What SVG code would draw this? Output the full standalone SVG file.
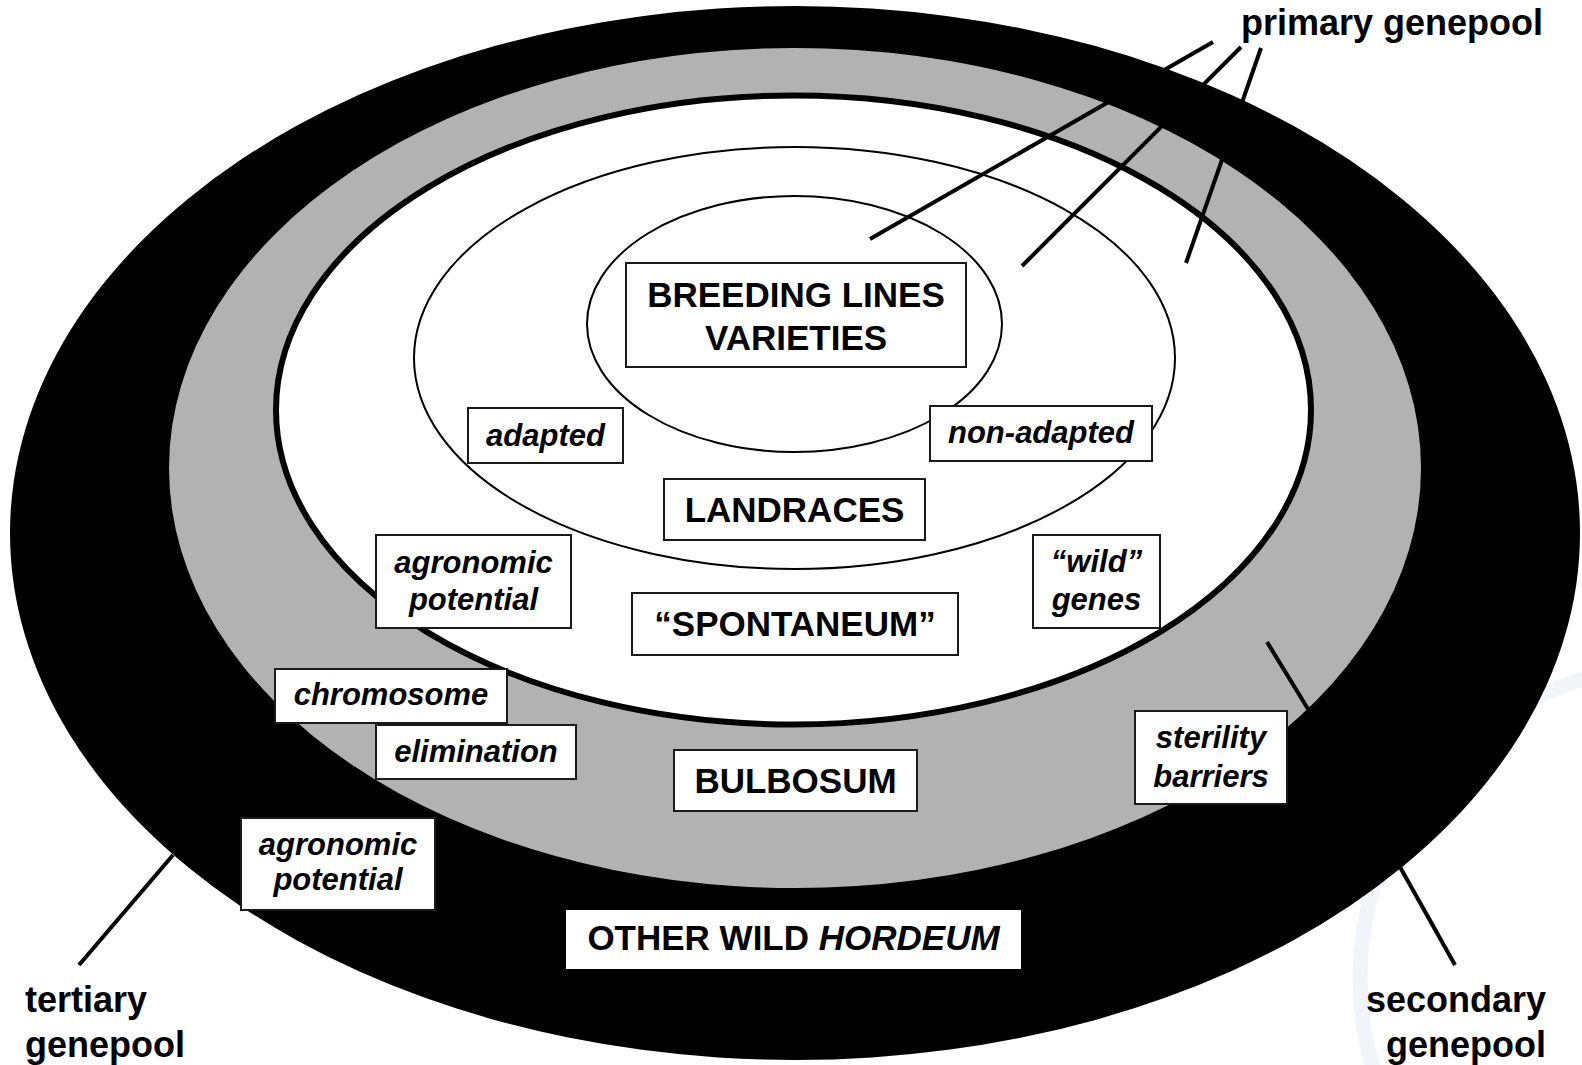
<svg xmlns="http://www.w3.org/2000/svg" width="1582" height="1065" viewBox="0 0 1582 1065">
<style>
.box{fill:#fff;stroke:#1a1a1a;stroke-width:2}
.b{font-family:"Liberation Sans",Arial,sans-serif;font-weight:bold;font-size:35px;fill:#000;text-anchor:middle}
.i{font-family:"Liberation Sans",Arial,sans-serif;font-weight:bold;font-style:italic;font-size:31px;fill:#000;text-anchor:middle}
.lab{font-family:"Liberation Sans",Arial,sans-serif;font-weight:bold;font-size:36px;fill:#000}
.lead{stroke:#000;stroke-width:4;fill:none}
.thin{fill:none;stroke:#000;stroke-width:2}
</style>
<rect width="1582" height="1065" fill="#fff"/>
<g id="watermark">
<circle cx="1672" cy="978" r="312" fill="none" stroke="#f1f4f9" stroke-width="15"/>
</g>
<g id="pools">
<ellipse id="tertiary" cx="795" cy="533" rx="785" ry="527" fill="#000"/>
<ellipse id="secondary" cx="795" cy="468" rx="626" ry="420" fill="#b2b2b2"/>
<ellipse id="primary" cx="793.5" cy="410" rx="517.5" ry="314.5" fill="#fff" stroke="#000" stroke-width="6"/>
<ellipse id="landrace-ring" class="thin" cx="794.5" cy="358" rx="380.5" ry="211"/>
<ellipse id="breeding-ring" class="thin" cx="794.5" cy="324" rx="207.5" ry="128"/>
</g>
<g id="connectors">
<line class="lead" x1="1213" y1="42" x2="870" y2="239"/>
<line class="lead" x1="1241" y1="47" x2="1022" y2="266"/>
<line class="lead" x1="1261" y1="48" x2="1186" y2="263"/>
<line class="lead" x1="1267" y1="642" x2="1308" y2="709"/>
<line class="lead" x1="1400" y1="867" x2="1455" y2="965"/>
<line class="lead" x1="173" y1="855" x2="79" y2="965"/>
</g>
<g id="n-breeding"><rect class="box" x="626" y="263" width="340" height="104"/><text class="b" x="796" y="307">BREEDING LINES</text><text class="b" x="796" y="350">VARIETIES</text></g>
<g id="n-adapted"><rect class="box" x="468" y="408" width="155" height="55"/><text class="i" x="545.5" y="446">adapted</text></g>
<g id="n-nonadapted"><rect class="box" x="930" y="406" width="222" height="55"/><text class="i" x="1041" y="443">non-adapted</text></g>
<g id="n-landraces"><rect class="box" x="664" y="479" width="261" height="61"/><text class="b" x="794.5" y="522">LANDRACES</text></g>
<g id="n-wildgenes"><rect class="box" x="1033" y="535" width="127" height="93"/><text class="i" x="1096.5" y="572">“wild”</text><text class="i" x="1096.5" y="610">genes</text></g>
<g id="n-agro1"><rect class="box" x="376" y="535" width="195" height="93"/><text class="i" x="473.5" y="573">agronomic</text><text class="i" x="473.5" y="610">potential</text></g>
<g id="n-spontaneum"><rect class="box" x="632" y="593" width="326" height="62"/><text class="b" x="795" y="636">“SPONTANEUM”</text></g>
<g id="n-chromosome"><rect class="box" x="275" y="669" width="232" height="54"/><text class="i" x="391" y="705">chromosome</text></g>
<g id="n-elimination"><rect class="box" x="376" y="725" width="200" height="54"/><text class="i" x="476" y="762">elimination</text></g>
<g id="n-bulbosum"><rect class="box" x="674" y="750" width="243" height="61"/><text class="b" x="795.5" y="793">BULBOSUM</text></g>
<g id="n-sterility"><rect class="box" x="1135" y="711" width="152" height="93"/><text class="i" x="1211" y="748">sterility</text><text class="i" x="1211" y="787">barriers</text></g>
<g id="n-agro2"><rect class="box" x="241" y="818" width="194" height="92"/><text class="i" x="338" y="855">agronomic</text><text class="i" x="338" y="890">potential</text></g>
<g id="n-otherwild"><rect x="566" y="910" width="455" height="59" fill="#fff"/><text class="b" x="793.5" y="950">OTHER WILD <tspan font-style="italic">HORDEUM</tspan></text></g>
<g id="labels">
<text class="lab" x="1241" y="35">primary genepool</text>
<text class="lab" x="1546" y="1012" text-anchor="end">secondary</text>
<text class="lab" x="1546" y="1057" text-anchor="end">genepool</text>
<text class="lab" x="25" y="1012">tertiary</text>
<text class="lab" x="25" y="1057">genepool</text>
</g>
</svg>
